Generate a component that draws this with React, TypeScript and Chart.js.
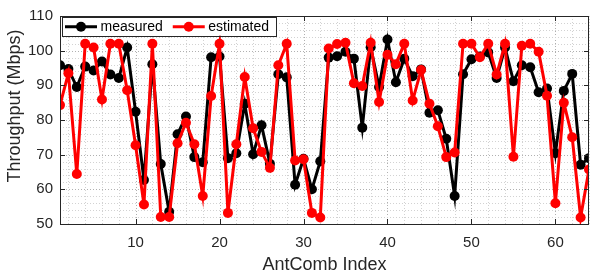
import { useEffect, useRef } from "react";
import { Chart, registerables } from "chart.js";

Chart.register(...registerables);

// AntComb index categories 1..64
const antCombIndex: number[] = Array.from({ length: 64 }, (_, i) => i + 1);

const measured: number[] = [
  95.8, 94.7, 89.5, 95.4, 94.3, 96.9, 93.1, 92.1, 100.9, 82.4,
  62.7, 96.1, 67.3, 53.5, 75.9, 81.0, 69.3, 67.8, 98.1, 98.3,
  69.0, 70.4, 84.7, 70.1, 78.5, 67.4, 93.2, 92.3, 61.3, 68.8,
  60.0, 68.1, 98.0, 98.4, 99.7, 97.7, 77.8, 101.0, 89.5, 103.2,
  90.9, 97.7, 92.6, 94.6, 82.1, 82.8, 74.6, 58.1, 93.2, 97.5,
  98.3, 99.5, 92.1, 100.9, 91.2, 95.8, 95.2, 88.0, 89.1, 70.4,
  88.4, 93.3, 67.1, 69.0,
];

const estimated: number[] = [
  84.3, 93.5, 64.4, 102.0, 100.9, 85.9, 102.0, 102.0, 88.6, 72.7,
  55.6, 102.0, 52.0, 52.0, 73.3, 79.2, 73.0, 58.1, 86.9, 102.0,
  53.2, 73.0, 92.4, 77.6, 70.8, 66.2, 95.8, 102.0, 68.3, 68.7,
  53.2, 51.9, 100.6, 101.9, 102.3, 90.6, 89.8, 102.3, 85.2, 98.8,
  96.1, 102.0, 85.6, 94.4, 84.7, 78.2, 69.3, 70.6, 102.0, 102.0,
  98.1, 102.0, 93.1, 102.0, 69.4, 101.4, 102.0, 99.7, 87.0, 56.0,
  85.0, 75.0, 51.9, 65.7,
];

const seriesLabels = ["measured", "estimated"];
const seriesColors = ["#000000", "#ff0000"];

const xMin = 1;
const xMax = 64;
const yMin = 50;
const yMax = 110;
const xTickLabels = [10, 20, 30, 40, 50, 60];
const yTickLabels = [50, 60, 70, 80, 90, 100, 110];
const minorStep = 2;

const xTitle = "AntComb Index";
const yTitle = "Throughput (Mbps)";

const FONT = "'Liberation Sans', Arial, Helvetica, sans-serif";
const AXIS = "#262626";

const gridValues = (lo: number, hi: number) => {
  const out: number[] = [];
  for (let v = Math.ceil(lo / minorStep) * minorStep; v <= hi; v += minorStep) out.push(v);
  return out;
};

const framePlugin = {
  id: "frame",
  beforeDatasetsDraw(chart: any) {
    const { ctx, chartArea: a, scales } = chart;
    ctx.save();
    ctx.lineWidth = 1;
    ctx.setLineDash([1, 2]);
    gridValues(xMin, xMax).forEach((v) => {
      const px = Math.round(scales.x.getPixelForValue(v)) + 0.5;
      ctx.strokeStyle = v % 10 === 0 ? "#b0b0b0" : "#d2d2d2";
      ctx.beginPath();
      ctx.moveTo(px, a.bottom);
      ctx.lineTo(px, a.top);
      ctx.stroke();
    });
    gridValues(yMin, yMax).forEach((v) => {
      const py = Math.round(scales.y.getPixelForValue(v)) + 0.5;
      ctx.strokeStyle = v % 10 === 0 ? "#b0b0b0" : "#d2d2d2";
      ctx.beginPath();
      ctx.moveTo(a.left, py);
      ctx.lineTo(a.right, py);
      ctx.stroke();
    });
    ctx.restore();
  },
  afterDatasetsDraw(chart: any) {
    const { ctx, chartArea: a, scales } = chart;
    ctx.save();
    ctx.strokeStyle = AXIS;
    ctx.lineWidth = 1;
    ctx.strokeRect(Math.round(a.left) + 0.5, Math.round(a.top) + 0.5, Math.round(a.right - a.left) - 1, Math.round(a.bottom - a.top));
    const tl = 5;
    ctx.beginPath();
    xTickLabels.forEach((v) => {
      const px = Math.round(scales.x.getPixelForValue(v)) + 0.5;
      ctx.moveTo(px, a.bottom);
      ctx.lineTo(px, a.bottom - tl);
      ctx.moveTo(px, a.top);
      ctx.lineTo(px, a.top + tl);
    });
    yTickLabels.forEach((v) => {
      const py = Math.round(scales.y.getPixelForValue(v)) + 0.5;
      ctx.moveTo(a.left, py);
      ctx.lineTo(a.left + tl, py);
      ctx.moveTo(a.right, py);
      ctx.lineTo(a.right - tl, py);
    });
    ctx.stroke();
    ctx.restore();
  },
  afterDraw(chart: any) {
    const { ctx, chartArea: a } = chart;
    ctx.save();
    // y title
    ctx.fillStyle = AXIS;
    ctx.font = `18px ${FONT}`;
    ctx.textAlign = "center";
    ctx.textBaseline = "middle";
    ctx.translate(15, 106);
    ctx.rotate(-Math.PI / 2);
    ctx.fillText(yTitle, 0, 0);
    ctx.restore();

    // legend
    ctx.save();
    ctx.font = `14px ${FONT}`;
    const bx = a.left + 1.5;
    const by = a.top + 1;
    const bh = 18.5;
    const lineLen = 32;
    const padStart = 3.5;
    const gapText = 3.5;
    const gapItem = 10;
    const padEnd = 7;
    const items = chart.data.datasets.map((d: any) => ({ label: d.label, color: d.borderColor }));
    const widths = items.map((it: any) => ctx.measureText(it.label).width);
    let total = padStart;
    widths.forEach((w: number, i: number) => {
      total += lineLen + gapText + w + (i < widths.length - 1 ? gapItem : padEnd);
    });
    ctx.fillStyle = "#ffffff";
    ctx.fillRect(bx, by, total, bh);
    ctx.strokeStyle = AXIS;
    ctx.lineWidth = 1;
    ctx.strokeRect(Math.round(bx) + 0.5, Math.round(by) + 0.5, Math.round(total), Math.round(bh));
    const cy = by + bh / 2 + 0.5;
    let x = bx + padStart;
    items.forEach((it: any, i: number) => {
      ctx.strokeStyle = it.color;
      ctx.lineWidth = 3;
      ctx.beginPath();
      ctx.moveTo(x, cy);
      ctx.lineTo(x + lineLen, cy);
      ctx.stroke();
      ctx.fillStyle = it.color;
      ctx.beginPath();
      ctx.arc(x + lineLen / 2, cy, 5, 0, Math.PI * 2);
      ctx.fill();
      ctx.fillStyle = "#000000";
      ctx.textAlign = "left";
      ctx.textBaseline = "middle";
      ctx.fillText(it.label, x + lineLen + gapText, cy + 0.5);
      x += lineLen + gapText + widths[i] + gapItem;
    });
    ctx.restore();
  },
};

export default function App() {
  const ref = useRef<HTMLCanvasElement | null>(null);

  useEffect(() => {
    document.body.style.margin = "0";
    const canvas = ref.current;
    if (!canvas) return;
    const mk = (vals: number[]) => antCombIndex.map((x, i) => ({ x, y: vals[i] }));
    const chart = new Chart(canvas, {
      type: "line",
      data: {
        datasets: [
          {
            label: seriesLabels[0],
            data: mk(measured),
            borderColor: seriesColors[0],
            backgroundColor: seriesColors[0],
            borderWidth: 3,
            pointRadius: 5,
            pointBorderWidth: 0,
            pointHoverRadius: 5,
            tension: 0,
            order: 1,
          },
          {
            label: seriesLabels[1],
            data: mk(estimated),
            borderColor: seriesColors[1],
            backgroundColor: seriesColors[1],
            borderWidth: 3,
            pointRadius: 5,
            pointBorderWidth: 0,
            pointHoverRadius: 5,
            tension: 0,
            order: 0,
          },
        ],
      },
      options: {
        animation: false,
        responsive: false,
        maintainAspectRatio: false,
        layout: { padding: { top: 7, right: 1, left: 0, bottom: 0 } },
        plugins: {
          legend: { display: false },
          tooltip: { enabled: false },
        },
        scales: {
          x: {
            type: "linear",
            min: xMin,
            max: xMax,
            afterBuildTicks: (s: any) => {
              s.ticks = xTickLabels.map((value) => ({ value }));
            },
            afterFit: (s: any) => {
              s.height = 52;
            },
            ticks: {
              autoSkip: false,
              maxRotation: 0,
              padding: 10,
              color: AXIS,
              font: { family: FONT, size: 15 },
            },
            grid: { display: false, drawTicks: false },
            border: { display: false },
            title: {
              display: true,
              text: xTitle,
              color: AXIS,
              font: { family: FONT, size: 18 },
              padding: 0,
            },
          },
          y: {
            type: "linear",
            min: yMin,
            max: yMax,
            afterBuildTicks: (s: any) => {
              s.ticks = yTickLabels.map((value) => ({ value }));
            },
            afterFit: (s: any) => {
              s.width = 60;
            },
            ticks: {
              autoSkip: false,
              padding: 7,
              color: AXIS,
              font: { family: FONT, size: 15 },
            },
            grid: { display: false, drawTicks: false },
            border: { display: false },
            title: { display: false, text: yTitle },
          },
        },
      },
      plugins: [framePlugin],
    });
    return () => chart.destroy();
  }, []);

  return (
    <div style={{ position: "absolute", left: 0, top: 0, width: 594, height: 276 }}>
      <canvas ref={ref} width={594} height={276} style={{ width: 594, height: 276, display: "block" }} />
    </div>
  );
}
